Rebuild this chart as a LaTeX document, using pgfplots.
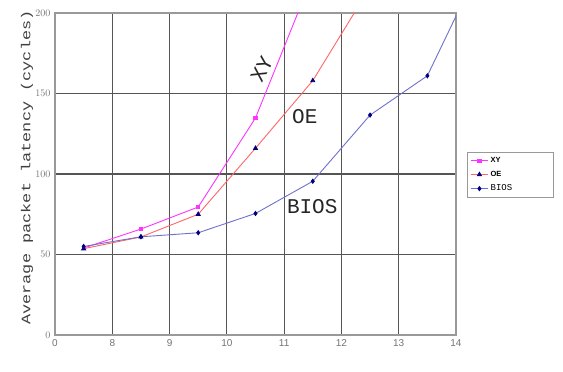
\documentclass[border=0pt]{standalone}
\usepackage{fontspec}
\setmainfont{Liberation Sans}
\newfontfamily\cour{Liberation Mono}
\usepackage{pgfplots}
\pgfplotsset{compat=1.18}
\definecolor{xyc}{HTML}{FF33FF}
\definecolor{oec}{HTML}{FF6666}
\definecolor{bic}{HTML}{6F6FCC}
\definecolor{mk}{HTML}{000080}
\definecolor{gridc}{HTML}{555555}
\begin{document}
\begin{tikzpicture}
\path[use as bounding box] (-55pt,-37pt) rectangle (508pt,335pt);
\begin{axis}[
  scale only axis, width=401pt, height=322pt,
  xmin=7, xmax=14, ymin=0, ymax=200,
  xtick={7,8,9,10,11,12,13,14},
  xticklabels={0,8,9,10,11,12,13,14},
  ytick={0,50,100,150,200},
  grid=major,
  grid style={gridc, line width=1.2pt},
  axis line style={gray!80, line width=1.2pt},
  major tick length=0pt,
  tick label style={font=\fontsize{10}{11}\selectfont, text=black!55},
  xticklabel style={yshift=-1pt},
  yticklabel style={xshift=-1pt},
  ylabel={\scalebox{1.3}[1]{Average packet latency (cycles)}},
  ylabel style={font=\cour\fontsize{13}{14}\selectfont, text=black!75, at={(rel axis cs:-0.07,0.52)}, anchor=center},
  clip=true,
  legend style={at={(1.027,0.568)}, anchor=north west, draw=gray!80, line width=0.8pt,
    font=\fontsize{7.5}{8}\selectfont, row sep=3pt, inner xsep=3pt, inner ysep=3pt},
  legend cell align=left,
  legend image code/.code={\draw[#1, line width=0.8pt] (0cm,0cm) -- (0.62cm,0cm); \draw[#1, mark repeat=1] plot coordinates {(0.31cm,0cm)};},
]
\addplot[xyc, line width=0.9pt, mark=square*, mark size=1.6pt, mark options={fill=xyc, draw=xyc}]
  coordinates {(7.5,54) (8.5,65.8) (9.5,79.5) (10.5,134.8) (11.5,223)};
\addplot[oec, line width=0.9pt, mark=triangle*, mark size=2.2pt, mark options={fill=mk, draw=mk}]
  coordinates {(7.5,53.6) (8.5,60.9) (9.5,75) (10.5,116) (11.5,158) (12.5,216)};
\addplot[bic, line width=0.9pt, mark=diamond*, mark size=2pt, mark options={fill=mk, draw=mk}]
  coordinates {(7.5,55) (8.5,61) (9.5,63.5) (10.5,75.5) (11.5,95.5) (12.5,136.6) (13.5,161) (14.5,235)};
\legend{\makebox[58pt][l]{\bfseries XY},\makebox[58pt][l]{\bfseries OE},\makebox[58pt][l]{\cour\fontsize{9}{10}\selectfont BIOS}}
\node[font=\cour\fontsize{21}{22}\selectfont, rotate=62, text=black!85] at (axis cs:10.61,165) {XY};
\node[font=\cour\fontsize{21}{22}\selectfont, text=black!85] at (axis cs:11.36,135.4) {OE};
\node[font=\cour\fontsize{21}{22}\selectfont, text=black!85] at (axis cs:11.49,80) {BIOS};
\node[anchor=base west, font=\cour\fontsize{13}{14}\selectfont, text=black!75, inner sep=0pt] at (rel axis cs:0.05,-0.087)
  {Packet injection rate (packets/cycle)\,{\fontsize{8}{9}\selectfont\sffamily ×10$^{-3}$}};
\end{axis}
\end{tikzpicture}
\end{document}
